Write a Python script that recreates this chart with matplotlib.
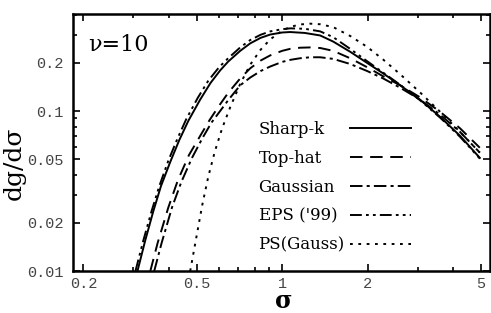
import numpy as np
import matplotlib
matplotlib.use('Agg')
import matplotlib.pyplot as plt
from matplotlib.ticker import FixedLocator, NullFormatter, LogLocator
from matplotlib.lines import Line2D

plt.rcParams['lines.scale_dashes'] = False

# values (sigma, dg/dsigma)
sharpk_s = [0.310, 0.330, 0.352, 0.375, 0.404, 0.435, 0.468, 0.515, 0.560, 0.606, 0.646, 0.712,
            0.772, 0.840, 0.908, 1.0, 1.067, 1.2, 1.36, 1.511, 1.733, 1.989, 2.264, 2.598, 3.05,
            3.59, 4.22, 4.95]
sharpk_g = [0.010, 0.0155, 0.0235, 0.034, 0.048, 0.066, 0.087, 0.118, 0.150, 0.180, 0.204, 0.238,
            0.265, 0.287, 0.301, 0.310, 0.312, 0.308, 0.297, 0.272, 0.235, 0.200, 0.172, 0.145, 0.118,
            0.092, 0.070, 0.051]

tophat_s = [0.344, 0.365, 0.398, 0.430, 0.470, 0.515, 0.556, 0.600, 0.646, 0.712, 0.772, 0.840,
            0.908, 1.0, 1.067, 1.157, 1.254, 1.36, 1.511, 1.733, 1.989, 2.264, 2.598, 3.05, 3.59,
            4.22, 4.95]
tophat_g = [0.010, 0.015, 0.025, 0.037, 0.053, 0.070, 0.088, 0.108, 0.130, 0.160, 0.185, 0.207,
            0.223, 0.238, 0.245, 0.249, 0.250, 0.248, 0.238, 0.214, 0.188, 0.165, 0.145, 0.122, 0.099,
            0.078, 0.059]

gauss_s = [0.355, 0.377, 0.410, 0.442, 0.482, 0.525, 0.565, 0.610, 0.646, 0.712, 0.772, 0.840,
           0.908, 1.0, 1.067, 1.157, 1.254, 1.36, 1.511, 1.733, 1.989, 2.264, 2.598, 3.05, 3.59,
           4.22, 4.95]
gauss_g = [0.010, 0.015, 0.025, 0.036, 0.051, 0.068, 0.085, 0.102, 0.117, 0.145, 0.162, 0.178,
           0.190, 0.203, 0.209, 0.214, 0.217, 0.217, 0.212, 0.197, 0.178, 0.160, 0.140, 0.118, 0.095,
           0.074, 0.055]

eps_s = [0.305, 0.325, 0.347, 0.370, 0.398, 0.428, 0.460, 0.505, 0.550, 0.600, 0.646, 0.712,
         0.772, 0.840, 0.908, 1.0, 1.067, 1.2, 1.36, 1.511, 1.733, 1.989, 2.264, 2.598, 3.05,
         3.59, 4.22, 4.95]
eps_g = [0.010, 0.0155, 0.0235, 0.034, 0.049, 0.067, 0.089, 0.121, 0.155, 0.188, 0.214, 0.250,
         0.278, 0.300, 0.315, 0.325, 0.329, 0.327, 0.315, 0.290, 0.245, 0.205, 0.174, 0.146, 0.117,
         0.091, 0.069, 0.0505]

ps_s = [0.475, 0.500, 0.524, 0.550, 0.580, 0.615, 0.657, 0.712, 0.772, 0.840, 0.908, 1.0,
        1.067, 1.157, 1.254, 1.36, 1.511, 1.733, 1.989, 2.264, 2.598, 3.05, 3.59, 4.22, 4.95]
ps_g = [0.010, 0.0165, 0.026, 0.039, 0.056, 0.078, 0.106, 0.148, 0.195, 0.242, 0.281, 0.318,
        0.336, 0.348, 0.352, 0.349, 0.335, 0.295, 0.252, 0.210, 0.170, 0.131, 0.099, 0.074, 0.055]

labels = ['Sharp-k', 'Top-hat', 'Gaussian', "EPS ('99)", 'PS(Gauss)']

xticks = [0.2, 0.5, 1, 2, 5]
xticklabels = ['0.2', '0.5', '1', '2', '5']
yticks = [0.01, 0.02, 0.05, 0.1, 0.2]
yticklabels = ['0.01', '0.02', '0.05', '0.1', '0.2']

fig = plt.figure(figsize=(4.91, 3.13), dpi=100)
ax = fig.add_axes([0.1487, 0.134, 0.849, 0.821])

lw = 1.4
styles = [None, (9, 5.5), (9, 3, 2.2, 3), (8.5, 3, 2, 3, 2, 3), (2, 4)]
series = [(sharpk_s, sharpk_g), (tophat_s, tophat_g), (gauss_s, gauss_g),
          (eps_s, eps_g), (ps_s, ps_g)]
lines = []
for (s, g), d in zip(series, styles):
    if d is None:
        ln, = ax.plot(s, g, color='black', lw=lw)
    else:
        ln, = ax.plot(s, g, color='black', lw=lw, dashes=d)
    lines.append(ln)

ax.set_xscale('log')
ax.set_yscale('log')
ax.set_xlim(0.184, 5.37)
ax.set_ylim(0.01, 0.404)

ax.xaxis.set_major_locator(FixedLocator(xticks))
ax.set_xticklabels(xticklabels)
ax.yaxis.set_major_locator(FixedLocator(yticks))
ax.set_yticklabels(yticklabels)
ax.xaxis.set_minor_locator(LogLocator(base=10, subs=np.arange(1, 10)))
ax.yaxis.set_minor_locator(LogLocator(base=10, subs=np.arange(1, 10)))
ax.xaxis.set_minor_formatter(NullFormatter())
ax.yaxis.set_minor_formatter(NullFormatter())

ax.tick_params(which='both', direction='in', top=True, right=True, width=1.2)
ax.tick_params(which='major', length=5, labelsize=11, labelcolor='#444444')
ax.tick_params(axis='y', which='major', pad=7)
ax.tick_params(axis='x', which='major', pad=4)
ax.tick_params(which='minor', length=3)
for lab in ax.get_xticklabels() + ax.get_yticklabels():
    lab.set_family('Liberation Mono')
for sp in ax.spines.values():
    sp.set_linewidth(1.8)

ax.set_xlabel('σ', family='DejaVu Serif', fontsize=17, fontweight='bold', va='baseline')
ax.xaxis.set_label_coords(0.506, -0.142)
ax.set_ylabel('dg/dσ', family='DejaVu Serif', fontsize=18)
ax.yaxis.set_label_coords(-0.113, 0.42)
ax.text(0.036, 0.879, 'ν=10', transform=ax.transAxes, family='DejaVu Serif',
        fontsize=16, va='center', ha='left')

# legend: text column and handle column, both left aligned
leg_font = {'family': 'DejaVu Serif', 'size': 12}
blank = [Line2D([], [], lw=0) for _ in labels]
leg_text = ax.legend(blank, labels, loc='upper left', bbox_to_anchor=(0.445, 0.585),
                     frameon=False, handlelength=0, handletextpad=0, borderpad=0,
                     borderaxespad=0, labelspacing=0.72, prop=leg_font)
ax.add_artist(leg_text)
ax.legend(lines, [' '] * len(lines), loc='upper left', bbox_to_anchor=(0.664, 0.585),
          frameon=False, handlelength=3.7, handletextpad=0, borderpad=0,
          borderaxespad=0, labelspacing=0.72, prop=leg_font)

fig.savefig('out.png', dpi=100)
